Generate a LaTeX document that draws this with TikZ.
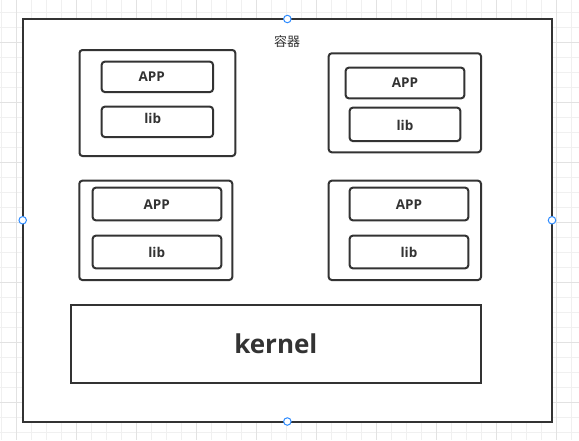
\documentclass[tikz,border=0pt]{standalone}
\usepackage{fontspec}
\setmainfont{Open Sans}
\newfontfamily\cjk{Noto Sans CJK SC}
\definecolor{ink}{HTML}{333333}
\definecolor{gridminor}{HTML}{F0F0F0}
\definecolor{gridmajor}{HTML}{E2E2E2}
\definecolor{handle}{HTML}{2F8CFF}
\tikzset{
  outerbox/.style={draw=ink, line width=2pt, fill=white, rectangle, inner sep=0pt, outer sep=0pt},
  appbox/.style={draw=ink, line width=2pt, rounded corners=3pt, rectangle, inner sep=0pt, outer sep=0pt},
  kernelbox/.style={draw=ink, line width=2pt, rectangle, inner sep=0pt, outer sep=0pt},
  lbl/.style={text=ink, font=\fontsize{13.5}{15}\selectfont\bfseries, inner sep=0pt, anchor=base},
  handlept/.style={circle, draw=handle, fill=white, line width=1pt, minimum size=7.5pt, inner sep=0pt},
}
\begin{document}
\begin{tikzpicture}[x=1pt, y=-1pt]
\useasboundingbox (0,0) rectangle (579,440);
\fill[white] (0,0) rectangle (579,440);
% grid
\foreach \k in {0,...,38} {\draw[gridminor, line width=0.8pt] ({1.7+15*\k},0) -- ({1.7+15*\k},440);}
\foreach \k in {0,...,28} {\draw[gridminor, line width=0.8pt] (0,{12.3+15*\k}) -- (579,{12.3+15*\k});}
\foreach \k in {0,...,9} {\draw[gridmajor, line width=0.8pt] ({16.7+60*\k},0) -- ({16.7+60*\k},440);}
\foreach \k in {0,...,6} {\draw[gridmajor, line width=0.8pt] (0,{42.3+60*\k}) -- (579,{42.3+60*\k});}
% container
\node[outerbox, minimum width=529.3pt, minimum height=402.5pt] (outer) at (287.35,220.25) {};
\node[text=ink, font=\cjk\fontsize{13}{15}\selectfont, inner sep=0pt, anchor=base] (title) at (287,46.3) {容器};
% box 1
\node[appbox, minimum width=155.8pt, minimum height=106pt] (b1) at (157.4,103) {};
\node[appbox, minimum width=111.3pt, minimum height=30.3pt] (b1a) at (157.35,76.85) {};
\node[appbox, minimum width=111.3pt, minimum height=30.3pt] (b1l) at (157.35,121.85) {};
\node[lbl] (t1a) at (151.7,81) {APP};
\node[lbl] (t1l) at (152.7,123.3) {lib};
% box 2
\node[appbox, minimum width=152.3pt, minimum height=99pt] (b2) at (404.85,102.8) {};
\node[appbox, minimum width=118.6pt, minimum height=30.6pt] (b2a) at (405,83) {};
\node[appbox, minimum width=110.6pt, minimum height=33.3pt] (b2l) at (405,124.35) {};
\node[lbl] (t2a) at (405,87.7) {APP};
\node[lbl] (t2l) at (405,130) {lib};
% box 3
\node[appbox, minimum width=153pt, minimum height=99.3pt] (b3) at (155.8,230.35) {};
\node[appbox, minimum width=128.6pt, minimum height=32.6pt] (b3a) at (157,204) {};
\node[appbox, minimum width=128.6pt, minimum height=32.6pt] (b3l) at (157,252) {};
\node[lbl] (t3a) at (156.7,209) {APP};
\node[lbl] (t3l) at (156.7,257.3) {lib};
% box 4
\node[appbox, minimum width=152.3pt, minimum height=99.3pt] (b4) at (404.85,230.35) {};
\node[appbox, minimum width=118.6pt, minimum height=32.6pt] (b4a) at (409,204) {};
\node[appbox, minimum width=118.6pt, minimum height=32.6pt] (b4l) at (409,252) {};
\node[lbl] (t4a) at (409,209) {APP};
\node[lbl] (t4l) at (409,257.3) {lib};
% kernel
\node[kernelbox, minimum width=410.3pt, minimum height=77.7pt] (kern) at (275.85,343.85) {};
\node[text=ink, font=\fontsize{26}{30}\selectfont\bfseries, inner sep=0pt, anchor=base] (tk) at (275.85,353.3) {kernel};
% selection handles
\node[handlept] (h1) at (outer.north) {};
\node[handlept] (h2) at (outer.west) {};
\node[handlept] (h3) at (outer.east) {};
\node[handlept] (h4) at (outer.south) {};
\end{tikzpicture}
\end{document}
